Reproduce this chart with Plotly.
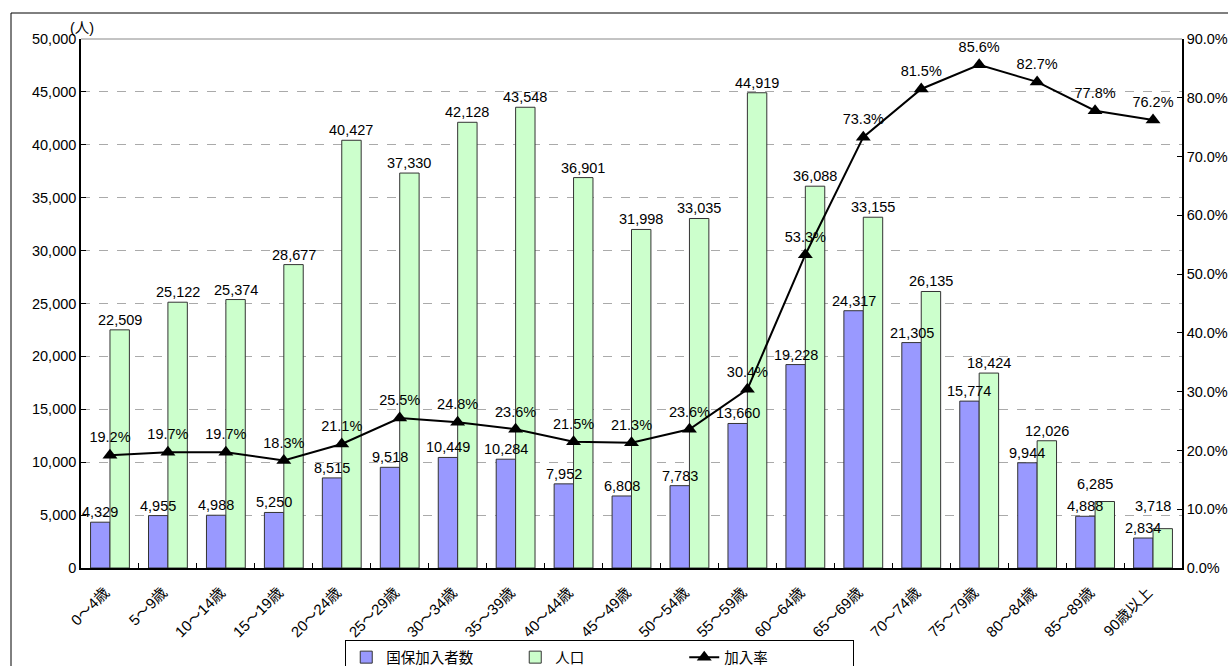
import plotly.graph_objects as go

# Age groups and values
categories = ["0～4歳", "5～9歳", "10～14歳", "15～19歳", "20～24歳", "25～29歳",
              "30～34歳", "35～39歳", "40～44歳", "45～49歳", "50～54歳", "55～59歳",
              "60～64歳", "65～69歳", "70～74歳", "75～79歳", "80～84歳", "85～89歳",
              "90歳以上"]
members = [4329, 4955, 4988, 5250, 8515, 9518, 10449, 10284, 7952, 6808, 7783,
           13660, 19228, 24317, 21305, 15774, 9944, 4888, 2834]
population = [22509, 25122, 25374, 28677, 40427, 37330, 42128, 43548, 36901, 31998,
              33035, 44919, 36088, 33155, 26135, 18424, 12026, 6285, 3718]
rate = [19.2, 19.7, 19.7, 18.3, 21.1, 25.5, 24.8, 23.6, 21.5, 21.3, 23.6, 30.4,
        53.3, 73.3, 81.5, 85.6, 82.7, 77.8, 76.2]

left_ticks = list(range(0, 50001, 5000))
right_ticks = list(range(0, 91, 10))

FONT = "Liberation Sans, Arial, Noto Sans CJK JP"
FS = 14.5

# plot area geometry (pixels)
PLOT_W, PLOT_H = 1101, 529
Y_MAX = 50000
BARGAP = 0.33
bar_px = PLOT_W / len(categories) * (1 - BARGAP) / 2
px_per_unit = PLOT_H / Y_MAX

fig = go.Figure()
fig.add_trace(go.Bar(
    x=categories, y=members, name="国保加入者数",
    marker=dict(color="#9999FF", line=dict(color="#333333", width=1)),
))
fig.add_trace(go.Bar(
    x=categories, y=population, name="人口",
    marker=dict(color="#CCFFCC", line=dict(color="#333333", width=1)),
))
fig.add_trace(go.Scatter(
    x=categories, y=rate, name="加入率", yaxis="y2",
    mode="lines+markers+text",
    line=dict(color="black", width=2),
    marker=dict(symbol="triangle-up", size=13, color="black"),
    text=[f"{v:.1f}%" for v in rate], textposition="top center",
    textfont=dict(size=FS, color="black"), cliponaxis=False,
))

# value labels above each bar, drawn on top of all bars
annotations = []
for cat, m, p in zip(categories, members, population):
    annotations.append(dict(x=cat, y=m, text=f"{m:,}", xshift=-bar_px / 2,
                            xanchor="center", yanchor="bottom", showarrow=False,
                            font=dict(size=FS, color="black")))
    # lift the population label when it would sit on the member label
    gap_px = (p - m) * px_per_unit
    lift = max(0.0, 22 - gap_px)
    annotations.append(dict(x=cat, y=p, text=f"{p:,}",
                            xshift=bar_px / 2 - (bar_px / 2 if lift else 0),
                            yshift=lift, xanchor="center", yanchor="bottom",
                            showarrow=False, font=dict(size=FS, color="black")))
annotations.append(dict(text="(人)", xref="paper", yref="paper", x=-13 / PLOT_W,
                        y=1 + 1 / PLOT_H, xanchor="left", yanchor="bottom",
                        showarrow=False, font=dict(size=FS)))

fig.update_layout(
    width=1228, height=666,
    margin=dict(l=81, r=46, t=39, b=98, autoexpand=False),
    paper_bgcolor="white", plot_bgcolor="white",
    font=dict(family=FONT, size=FS, color="black"),
    barmode="group", bargap=BARGAP, bargroupgap=0,
    showlegend=True,
    legend=dict(orientation="h", x=0.24, y=-0.1365, xanchor="left", yanchor="top",
                bordercolor="black", borderwidth=1, entrywidth=124,
                font=dict(size=FS)),
    xaxis=dict(
        type="category", range=[-0.5, len(categories) - 0.5],
        tickangle=-45, showline=True, linecolor="black",
        linewidth=1.5, ticks="inside", tickson="boundaries", ticklen=5,
        tickcolor="black", showgrid=False, tickfont=dict(size=15),
        ticklabelstandoff=8, ticklabelshift=-5,
        automargin=False,
    ),
    yaxis=dict(
        range=[0, Y_MAX], tickvals=left_ticks,
        ticktext=[f"{v:,}" for v in left_ticks],
        showline=True, linecolor="black", linewidth=1.5,
        ticks="inside", ticklen=5, tickcolor="black",
        showgrid=True, gridcolor="#AAAAAA", griddash="dash", gridwidth=1,
        zeroline=False, tickfont=dict(size=FS), automargin=False,
    ),
    yaxis2=dict(
        range=[0, 90], overlaying="y", side="right", tickvals=right_ticks,
        ticktext=[f"{v:.1f}%" for v in right_ticks],
        showline=True, linecolor="black", linewidth=1.5,
        ticks="inside", ticklen=5, tickcolor="black",
        showgrid=False, zeroline=False, tickfont=dict(size=FS),
        automargin=False,
    ),
    shapes=[
        # top edge of the plotting area
        dict(type="line", xref="paper", yref="paper", x0=0, x1=1, y0=1, y1=1,
             line=dict(color="#888888", width=1)),
        # outer chart frame
        dict(type="rect", xref="paper", yref="paper",
             x0=-70 / PLOT_W, x1=1.1, y0=-0.3, y1=1 + 26 / PLOT_H,
             line=dict(color="black", width=1), fillcolor="rgba(0,0,0,0)"),
    ],
    annotations=annotations,
)

fig.write_html("out.html")
